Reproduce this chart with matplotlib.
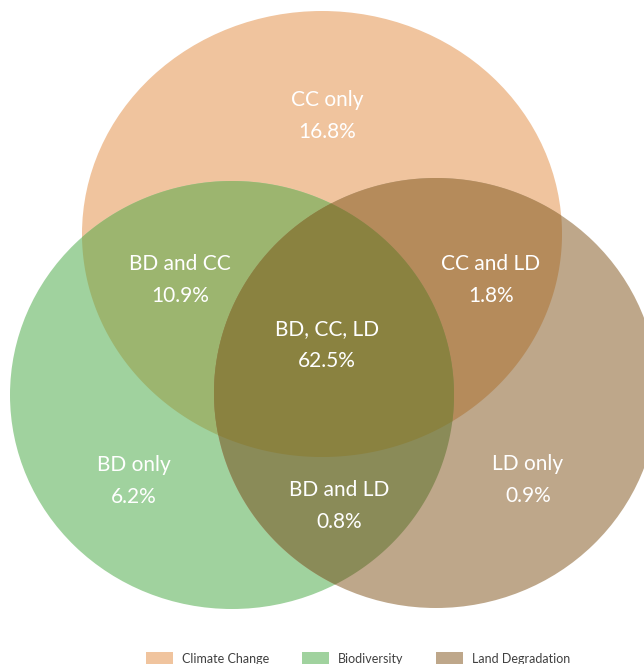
import numpy as np
import matplotlib
matplotlib.use("Agg")
import matplotlib.pyplot as plt
from matplotlib.patches import Ellipse, Polygon, Patch

# sets: Climate Change, Biodiversity, Land Degradation
set_names = ["Climate Change", "Biodiversity", "Land Degradation"]
set_colors = ["#F0C49E", "#A0D29E", "#BEA78A"]

# region labels and shares (%)
region_labels = ["CC only", "BD and CC", "CC and LD", "BD, CC, LD", "BD only", "BD and LD", "LD only"]
region_values = [16.8, 10.9, 1.8, 62.5, 6.2, 0.8, 0.9]

# colours of the overlaps
pair_colors = {(0, 1): "#9CB56F", (0, 2): "#B58B5B", (1, 2): "#8A8B58"}
triple_color = "#8A8240"

# ellipse geometry in pixels (cx, cy, width, height)
shapes = [(322, 234, 480, 446), (232, 395, 444, 428), (436, 393, 444, 430)]
label_pos = [(327, 116), (180, 280), (491, 280), (327, 345), (134, 481), (339, 506), (528, 480)]


def boundary(e, n=3000):
	cx, cy, w, h = e
	t = np.linspace(0, 2*np.pi, n, endpoint=False)
	return np.column_stack((cx + w/2*np.cos(t), cy + h/2*np.sin(t)))


def inside(p, e):
	cx, cy, w, h = e
	return ((p[:, 0]-cx)/(w/2))**2 + ((p[:, 1]-cy)/(h/2))**2 <= 1.0 + 1e-9


def intersection(idx):
	#giao cua cac ellipse (convex) -> lay diem bien nam trong cac ellipse con lai
	pts = []
	for i in idx:
		b = boundary(shapes[i])
		mask = np.ones(len(b), bool)
		for j in idx:
			if j != i:
				mask &= inside(b, shapes[j])
		pts.append(b[mask])
	pts = np.vstack(pts)
	c = pts.mean(axis=0)
	ang = np.arctan2(pts[:, 1]-c[1], pts[:, 0]-c[0])
	return pts[np.argsort(ang)]


fig = plt.figure(figsize=(6.44, 6.64), dpi=100)
ax = fig.add_axes([0, 0, 1, 1])
ax.set_xlim(0, 644)
ax.set_ylim(664, 0)
ax.axis("off")

for e, col in zip(shapes, set_colors):
	ax.add_patch(Ellipse((e[0], e[1]), e[2], e[3], facecolor=col, edgecolor="none"))

for (i, j), col in pair_colors.items():
	ax.add_patch(Polygon(intersection([i, j]), closed=True, facecolor=col, edgecolor="none"))

ax.add_patch(Polygon(intersection([0, 1, 2]), closed=True, facecolor=triple_color, edgecolor="none"))

for lab, val, (x, y) in zip(region_labels, region_values, label_pos):
	ax.text(x, y, f"{lab}\n{val}%", color="white", fontsize=15, family="Lato",
			ha="center", va="center", linespacing=1.75)

handles = [Patch(facecolor=c, edgecolor="none") for c in set_colors]
fig.legend(handles, set_names, loc="center", bbox_to_anchor=(0.556, 0.008), ncol=3,
		   frameon=False, handlelength=2.2, handleheight=1.3,
		   handletextpad=0.7, columnspacing=2.6, labelcolor="#404040",
		   prop={"family": "Lato", "size": 9})

fig.savefig("out.png", dpi=100)
